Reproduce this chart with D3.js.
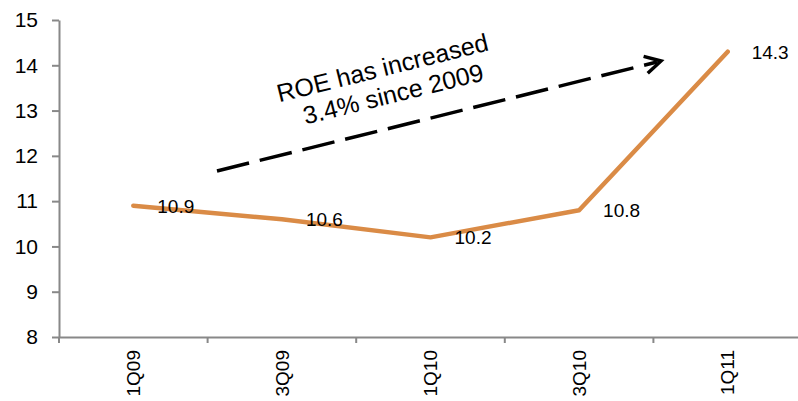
<!DOCTYPE html>
<html><head><meta charset="utf-8">
<script src="https://cdn.jsdelivr.net/npm/d3@7"></script>
<style>body{margin:0;background:#fff}svg{display:block}text{font-family:"Liberation Sans",Arial,sans-serif}</style>
</head><body>
<svg id="c" width="798" height="401"></svg>
<script>
const categories = ["1Q09","3Q09","1Q10","3Q10","1Q11"];
const roeValues = [10.9, 10.6, 10.2, 10.8, 14.3];
const yTicks = [8,9,10,11,12,13,14,15];
const annotationLines = ["ROE has increased","3.4% since 2009"];

(function(){
const svg = d3.select("#c");
const mLeft = 59, mTop = 20, mBottom = 337, mRight = 802;
const x = d3.scaleBand().domain(categories).range([mLeft, mRight]);
const y = d3.scaleLinear().domain([8,15]).range([mBottom, mTop]);
const axisColor = "#888";

// Y axis
const ya = svg.append("g").attr("transform",`translate(${mLeft},0)`)
  .call(d3.axisLeft(y).tickValues(yTicks).tickFormat(d3.format("d")).tickSize(7).tickSizeOuter(0).tickPadding(14));
ya.select(".domain").attr("stroke",axisColor).attr("stroke-width",2);
ya.selectAll(".tick line").attr("stroke",axisColor).attr("stroke-width",2);
ya.selectAll(".tick text").attr("font-size",21).attr("fill","#000");

// X axis
const xa = svg.append("g").attr("transform",`translate(0,${mBottom})`)
  .call(d3.axisBottom(x).tickSize(0).tickSizeOuter(0));
xa.select(".domain").attr("stroke",axisColor).attr("stroke-width",2);
xa.selectAll(".tick line").remove();
xa.selectAll(".tick text").attr("font-size",19).attr("fill","#000")
  .attr("transform","rotate(-90)").attr("text-anchor","end")
  .attr("x",-13).attr("y",0).attr("dy","0.35em");
const bounds = categories.map(c => x(c)).concat([x(categories[categories.length-1]) + x.bandwidth()]);
svg.append("g").selectAll("line").data(bounds).join("line")
  .attr("x1",d=>d).attr("x2",d=>d).attr("y1",mBottom).attr("y2",mBottom+6)
  .attr("stroke",axisColor).attr("stroke-width",2);

// line
const cx = c => x(c) + x.bandwidth()/2;
const data = categories.map((c,i)=>({c, v: roeValues[i]}));
svg.append("path").datum(data)
  .attr("fill","none").attr("stroke","#DA8B46").attr("stroke-width",4.5)
  .attr("stroke-linejoin","round").attr("stroke-linecap","round")
  .attr("d", d3.line().x(d=>cx(d.c)).y(d=>y(d.v)));

// labels
svg.append("g").selectAll("text").data(data).join("text")
  .attr("x",d=>cx(d.c)+24).attr("y",d=>y(d.v)+7)
  .attr("font-size",19).attr("fill","#000")
  .text(d=>d.v.toFixed(1));

// annotation arrow
const x0 = 217, y0 = 171, x1 = 661, y1 = 61;
svg.append("line").attr("x1",x0).attr("y1",y0).attr("x2",x1-4).attr("y2",y1+1)
  .attr("stroke","#000").attr("stroke-width",3.5).attr("stroke-dasharray","33,11");
const ang = Math.atan2(y1-y0, x1-x0);
const hl = 18, ha = 0.5;
const p1 = [x1 - hl*Math.cos(ang-ha), y1 - hl*Math.sin(ang-ha)];
const p2 = [x1 - hl*Math.cos(ang+ha), y1 - hl*Math.sin(ang+ha)];
svg.append("path").attr("d",`M${p1}L${x1},${y1}L${p2}`)
  .attr("fill","none").attr("stroke","#000").attr("stroke-width",3.5)
  .attr("stroke-linejoin","miter");

const deg = ang*180/Math.PI;
const tg = svg.append("g").attr("transform",`translate(386,82) rotate(${deg})`);
tg.selectAll("text").data(annotationLines).join("text")
  .attr("text-anchor","middle").attr("x",(d,i)=>i*4).attr("y",(d,i)=>i*28-6)
  .attr("font-size",25).attr("fill","#000").text(d=>d);
})();
</script>
</body></html>
